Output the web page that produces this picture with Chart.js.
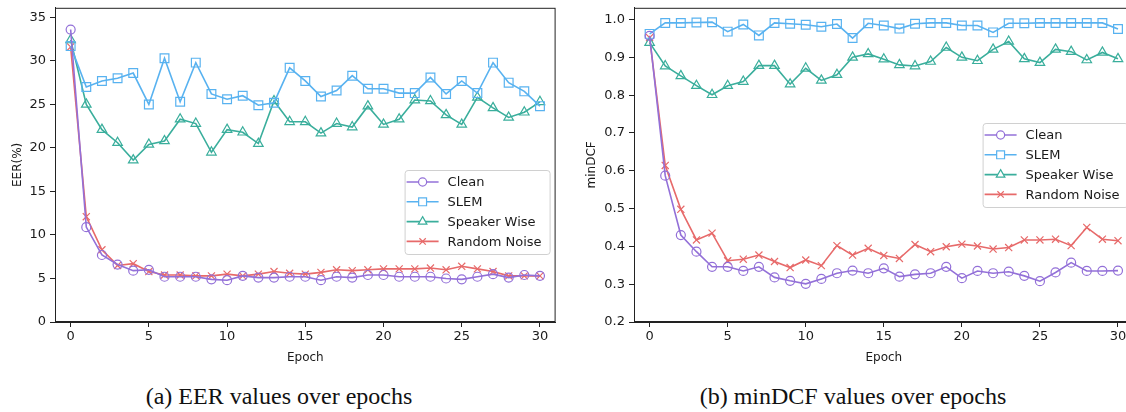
<!DOCTYPE html>
<html>
<head>
<meta charset="utf-8">
<script src="https://cdn.jsdelivr.net/npm/chart.js@4.4.1/dist/chart.umd.min.js"></script>
<style>
  body { margin: 0; background: #fff; width: 1126px; height: 412px; position: relative; overflow: hidden; }
  .box { position: absolute; top: -4px; height: 369px; }
  .cap { position: absolute; top: 383px; font-family: "Liberation Serif", serif; font-size: 24px; color: #111; text-align: center; white-space: nowrap; }
</style>
</head>
<body>
<div class="box" style="left:0;width:563px"><canvas id="eerChart"></canvas></div>
<div class="box" style="left:575px;width:566px"><canvas id="dcfChart"></canvas></div>
<div class="cap" style="left:79px;width:400px">(a) EER values over epochs</div>
<div class="cap" style="left:653px;width:400px">(b) minDCF values over epochs</div>
<script>
// Data
const epochs = [0,1,2,3,4,5,6,7,8,9,10,11,12,13,14,15,16,17,18,19,20,21,22,23,24,25,26,27,28,29,30];
const epochTicks = [0, 5, 10, 15, 20, 25, 30];
const eerTicks = [0, 5, 10, 15, 20, 25, 30, 35];
const dcfTicks = [0.2, 0.3, 0.4, 0.5, 0.6, 0.7, 0.8, 0.9, 1.0];

const eerClean = [33.6,10.9,7.7,6.6,5.9,6.0,5.2,5.2,5.2,4.9,4.8,5.3,5.1,5.1,5.2,5.2,4.8,5.2,5.1,5.4,5.4,5.2,5.2,5.2,5.0,4.9,5.2,5.5,5.1,5.4,5.3];
const eerSlem = [31.7,27.0,27.7,28.0,28.6,25.0,30.3,25.3,29.8,26.2,25.6,26.0,24.9,25.2,29.2,27.7,25.9,26.6,28.3,26.8,26.8,26.3,26.3,28.1,26.2,27.7,26.3,29.8,27.5,26.5,24.8];
const eerSpeaker = [32.4,25.0,22.1,20.6,18.6,20.4,20.8,23.3,22.8,19.5,22.1,21.8,20.5,25.4,23.0,23.0,21.7,22.8,22.4,24.8,22.7,23.3,25.5,25.4,23.8,22.7,25.8,24.6,23.5,24.1,25.3];
const eerNoise = [31.6,12.1,8.3,6.5,6.7,5.8,5.4,5.4,5.3,5.3,5.5,5.3,5.5,5.8,5.6,5.5,5.7,6.0,5.9,6.0,6.1,6.1,6.1,6.2,6.0,6.4,6.1,5.8,5.3,5.3,5.3];

const dcfClean = [0.957,0.587,0.430,0.386,0.346,0.346,0.335,0.346,0.318,0.309,0.301,0.314,0.329,0.336,0.329,0.342,0.320,0.326,0.329,0.346,0.316,0.335,0.329,0.333,0.322,0.308,0.331,0.357,0.335,0.335,0.336];
const dcfSlem = [0.962,0.991,0.991,0.992,0.993,0.968,0.987,0.958,0.991,0.989,0.986,0.981,0.988,0.951,0.990,0.984,0.976,0.989,0.991,0.991,0.984,0.984,0.966,0.990,0.990,0.991,0.991,0.991,0.991,0.991,0.975];
const dcfSpeaker = [0.939,0.877,0.851,0.825,0.801,0.825,0.836,0.878,0.878,0.829,0.871,0.839,0.854,0.900,0.909,0.895,0.880,0.877,0.889,0.926,0.900,0.891,0.921,0.942,0.896,0.886,0.921,0.915,0.893,0.913,0.896];
const dcfNoise = [0.952,0.614,0.498,0.417,0.435,0.362,0.366,0.377,0.360,0.344,0.364,0.349,0.402,0.377,0.395,0.376,0.368,0.405,0.386,0.399,0.406,0.401,0.393,0.397,0.417,0.417,0.419,0.402,0.450,0.419,0.415];

const seriesNames = ['Clean', 'SLEM', 'Speaker Wise', 'Random Noise'];
const seriesColors = ['#9370d8', '#58b2f0', '#3aae9c', '#e76a6a'];
const seriesMarkers = ['circle', 'rect', 'triangle', 'crossRot'];
const markerSizes = [4.5, 6.2, 5.5, 5];

const FONT = 'DejaVu Sans';

function makeDatasets(lists) {
  return lists.map((vals, i) => ({
    label: seriesNames[i],
    data: epochs.map((e, j) => ({ x: e, y: vals[j] })),
    borderColor: seriesColors[i],
    backgroundColor: 'rgba(0,0,0,0)',
    borderWidth: 1.6,
    pointStyle: seriesMarkers[i],
    pointRadius: markerSizes[i],
    pointBorderWidth: 1.2,
    pointBorderColor: seriesColors[i],
    pointBackgroundColor: 'rgba(0,0,0,0)',
    tension: 0
  }));
}

// box frame around the plot area + legend inside
const frameAndLegend = {
  id: 'frameAndLegend',
  afterDatasetsDraw(chart, args, opts) {
    const { ctx, chartArea } = chart;
    ctx.save();
    ctx.strokeStyle = '#222';
    ctx.lineWidth = 1;
    ctx.strokeRect(chartArea.left + 0.5, chartArea.top + 0.5, chartArea.right - chartArea.left - 1, chartArea.bottom - chartArea.top - 1);

    // legend
    const w = 145, rowH = 19.8, h = 84;
    const x0 = chartArea.right - w - 6;
    const y0 = opts.top;
    ctx.fillStyle = 'rgba(255,255,255,0.85)';
    ctx.strokeStyle = '#d0d0d0';
    ctx.beginPath();
    ctx.roundRect(x0 + 0.5, y0 + 0.5, w, h, 3);
    ctx.fill();
    ctx.stroke();
    ctx.font = '13px "' + FONT + '"';
    ctx.textBaseline = 'middle';
    chart.data.datasets.forEach((ds, i) => {
      const cy = y0 + 12 + rowH * i;
      ctx.strokeStyle = ds.borderColor;
      ctx.lineWidth = 1.6;
      ctx.beginPath();
      ctx.moveTo(x0 + 2, cy);
      ctx.lineTo(x0 + 34, cy);
      ctx.stroke();
      ctx.fillStyle = '#fff';
      ctx.lineWidth = 1.2;
      Chart.helpers.drawPoint(ctx, {
        pointStyle: ds.pointStyle, radius: ds.pointRadius * 0.9, rotation: 0, borderWidth: 1.2
      }, x0 + 18, cy);
      ctx.fillStyle = '#1a1a1a';
      ctx.fillText(ds.label, x0 + 43, cy + 1);
    });
    ctx.restore();
  }
};

function makeOptions(cfg) {
  return {
    responsive: true,
    maintainAspectRatio: false,
    animation: false,
    layout: { padding: { top: cfg.padTop, right: cfg.padRight, left: 0, bottom: 0 } },
    plugins: {
      legend: { display: false },
      tooltip: { enabled: false },
      frameAndLegend: { top: cfg.legendTop }
    },
    scales: {
      x: {
        type: 'linear',
        min: -1,
        max: 31,
        afterBuildTicks: s => { s.ticks = epochTicks.map(v => ({ value: v })); },
        afterFit: s => { s.height = 43; },
        grid: { drawOnChartArea: false, drawTicks: true, tickLength: 5, color: '#222' },
        border: { display: true, color: '#222' },
        ticks: { color: '#1a1a1a', font: { family: FONT, size: 13 }, padding: 2, maxRotation: 0 },
        title: { display: true, text: 'Epoch', color: '#1a1a1a', font: { family: FONT, size: 12 }, padding: { top: 0, bottom: 0 } }
      },
      y: {
        min: cfg.yMin,
        max: cfg.yMax,
        afterBuildTicks: s => { s.ticks = cfg.yTicks.map(v => ({ value: v })); },
        afterFit: s => { s.width = cfg.yWidth; },
        grid: { drawOnChartArea: false, drawTicks: true, tickLength: 5, color: '#222' },
        border: { display: true, color: '#222' },
        ticks: { color: '#1a1a1a', font: { family: FONT, size: 13 }, padding: 4, callback: cfg.fmt },
        title: { display: true, text: cfg.yTitle, color: '#1a1a1a', font: { family: FONT, size: 12 }, padding: { top: cfg.titlePad, bottom: 2 } }
      }
    }
  };
}

new Chart(document.getElementById('eerChart'), {
  type: 'line',
  data: { datasets: makeDatasets([eerClean, eerSlem, eerSpeaker, eerNoise]) },
  options: makeOptions({
    padTop: 4, padRight: 6, yMin: 0, yMax: 36.1, yTicks: eerTicks, yWidth: 55,
    yTitle: 'EER(%)', titlePad: 11, fmt: v => v, legendTop: 174
  }),
  plugins: [frameAndLegend]
});

new Chart(document.getElementById('dcfChart'), {
  type: 'line',
  data: { datasets: makeDatasets([dcfClean, dcfSlem, dcfSpeaker, dcfNoise]) },
  options: makeOptions({
    padTop: 4, padRight: 0, yMin: 0.2, yMax: 1.031, yTicks: dcfTicks, yWidth: 59,
    yTitle: 'minDCF', titlePad: 10, fmt: v => v.toFixed(1), legendTop: 127
  }),
  plugins: [frameAndLegend]
});
</script>
</body>
</html>
